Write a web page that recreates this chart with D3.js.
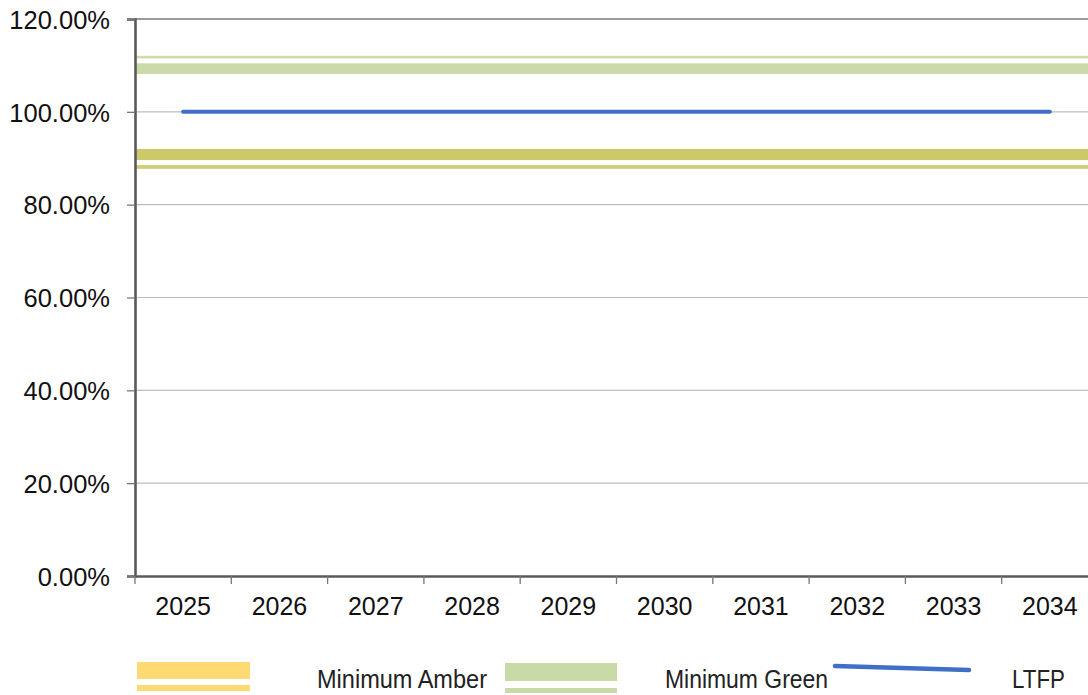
<!DOCTYPE html>
<html>
<head>
<meta charset="utf-8">
<script src="https://cdn.jsdelivr.net/npm/d3@7/dist/d3.min.js"></script>
<style>
  html, body { margin: 0; padding: 0; background: #fff; }
  svg { display: block; font-family: "Liberation Sans", Arial, sans-serif; }
</style>
</head>
<body>
<svg id="chart" width="1088" height="695"></svg>
<script>
// ---- data ----
const years = ["2025","2026","2027","2028","2029","2030","2031","2032","2033","2034"];
const ltfp = [1.00, 1.00, 1.00, 1.00, 1.00, 1.00, 1.00, 1.00, 1.00, 1.00];
const minimumAmber = [0.90, 0.90, 0.90, 0.90, 0.90, 0.90, 0.90, 0.90, 0.90, 0.90];
const minimumGreen = [1.10, 1.10, 1.10, 1.10, 1.10, 1.10, 1.10, 1.10, 1.10, 1.10];
const yTicks = [0, 0.2, 0.4, 0.6, 0.8, 1.0, 1.2];
const legendLabels = ["Minimum Amber", "Minimum Green", "LTFP"];

// ---- layout ----
const svg = d3.select("#chart");
const plotLeft = 135, plotRight = 1098, plotTop = 19, plotBottom = 576;

const x = d3.scaleBand().domain(years).range([plotLeft, plotRight]).paddingInner(0).paddingOuter(0);
const y = d3.scaleLinear().domain([0, 1.2]).range([plotBottom, plotTop]);

// gridlines
svg.append("g").selectAll("line").data(yTicks.filter(d => d > 0)).join("line")
  .attr("x1", plotLeft).attr("x2", plotRight)
  .attr("y1", d => y(d)).attr("y2", d => y(d))
  .attr("stroke", d => d === 1.2 ? "#9a9a9a" : "#bdbdbd")
  .attr("stroke-width", d => d === 1.2 ? 2 : 1.2);

// band series (compound double lines) spanning the plot width
function bandLines(values, parts) {
  const v = values[0];
  const g = svg.append("g");
  parts.forEach(p => {
    g.append("rect")
      .attr("x", plotLeft).attr("width", plotRight - plotLeft)
      .attr("y", y(v) + p.from).attr("height", p.to - p.from)
      .attr("fill", p.color);
  });
}
bandLines(minimumGreen, [
  {from: -9.6, to: -7.0, color: "#cddcad"},
  {from: -2.1, to: 8.6, color: "#cadba9"}
]);
bandLines(minimumAmber, [
  {from: -9.3, to: 1.8, color: "#ccc96a"},
  {from: 6.8, to: 10.6, color: "#d1ce78"}
]);

// LTFP line
const line = d3.line().x((d, i) => x(years[i]) + x.bandwidth() / 2).y(d => y(d));
svg.append("path").datum(ltfp)
  .attr("d", line)
  .attr("fill", "none")
  .attr("stroke", "#3f6fc6")
  .attr("stroke-width", 4)
  .attr("stroke-linecap", "round");

// y axis
const yAxis = svg.append("g").attr("transform", `translate(${plotLeft},0)`)
  .call(d3.axisLeft(y).tickValues(yTicks).tickSize(8).tickPadding(17)
    .tickFormat(d => (d * 100).toFixed(2) + "%"));
yAxis.select(".domain").attr("stroke", "#5a5a5a").attr("stroke-width", 2.6);
yAxis.selectAll(".tick line").attr("stroke", "#777").attr("stroke-width", 1.3);
yAxis.selectAll(".tick text").attr("font-size", 25.5).attr("fill", "#111")
  .attr("font-family", "'Liberation Sans', Arial, sans-serif").attr("dy", "0.36em");

// x axis
const xAxis = svg.append("g").attr("transform", `translate(0,${plotBottom})`)
  .call(d3.axisBottom(x).tickSize(0).tickPadding(21));
xAxis.select(".domain").attr("stroke", "#5a5a5a").attr("stroke-width", 2.4);
xAxis.selectAll(".tick text").attr("font-size", 25).attr("fill", "#111")
  .attr("font-family", "'Liberation Sans', Arial, sans-serif");
// category boundary ticks
svg.append("g").selectAll("line").data(years).join("line")
  .attr("x1", d => x(d)).attr("x2", d => x(d))
  .attr("y1", plotBottom).attr("y2", plotBottom + 8)
  .attr("stroke", "#777").attr("stroke-width", 1.3);

// legend
const lg = svg.append("g");
lg.append("rect").attr("x", 137).attr("y", 662).attr("width", 113).attr("height", 17).attr("fill", "#ffd972");
lg.append("rect").attr("x", 137).attr("y", 685).attr("width", 113).attr("height", 6).attr("fill", "#ffd972");
lg.append("rect").attr("x", 505).attr("y", 663).attr("width", 112).attr("height", 18).attr("fill", "#c9d9a8");
lg.append("rect").attr("x", 505).attr("y", 688).attr("width", 112).attr("height", 5).attr("fill", "#c9d9a8");
lg.append("line").attr("x1", 835).attr("y1", 666).attr("x2", 969).attr("y2", 670)
  .attr("stroke", "#3f6fc6").attr("stroke-width", 4.5).attr("stroke-linecap", "round");

const legendText = [
  {t: legendLabels[0], x: 317, w: 170},
  {t: legendLabels[1], x: 665, w: 163},
  {t: legendLabels[2], x: 1012, w: 53}
];
lg.selectAll("text").data(legendText).join("text")
  .attr("x", d => d.x).attr("y", 688)
  .attr("font-size", 26).attr("fill", "#222")
  .attr("textLength", d => d.w).attr("lengthAdjust", "spacingAndGlyphs")
  .text(d => d.t);
</script>
</body>
</html>
